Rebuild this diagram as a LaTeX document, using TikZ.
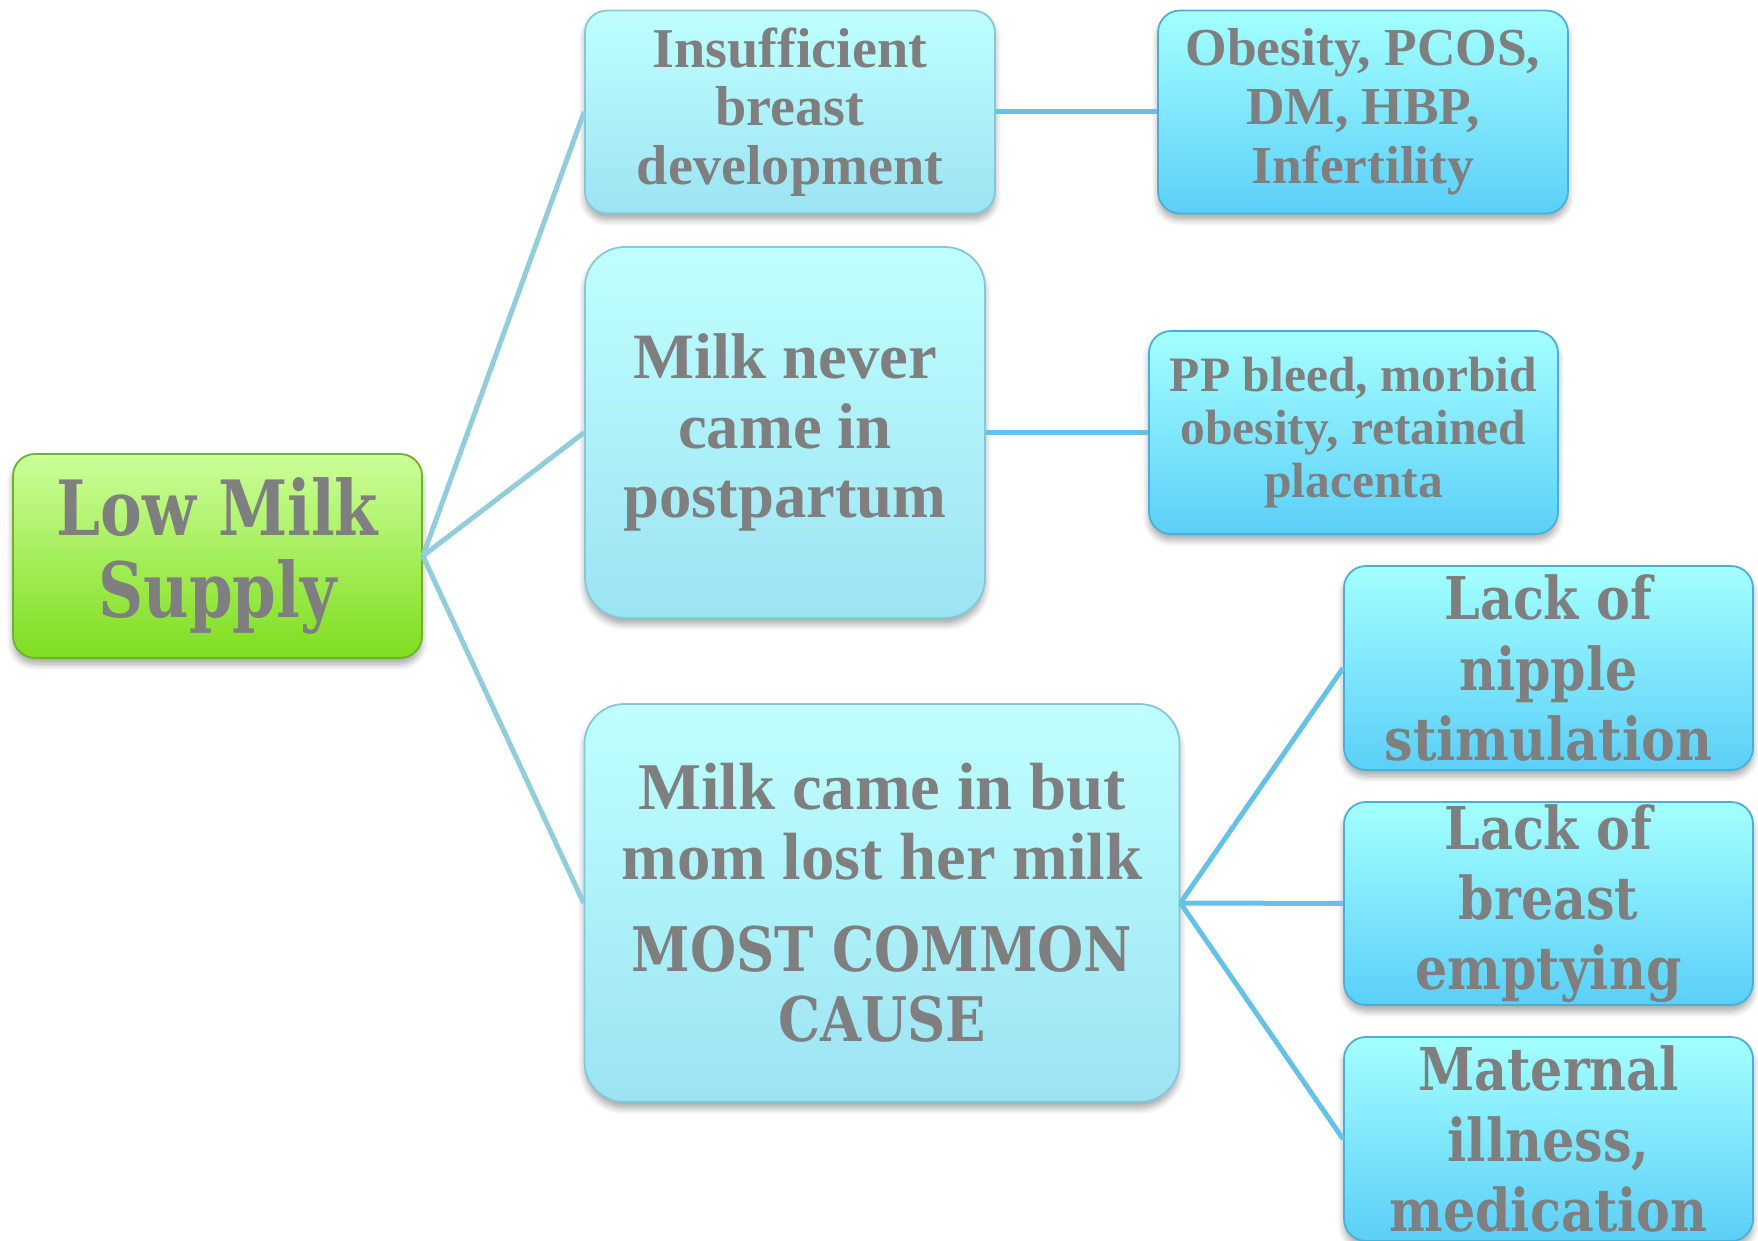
\documentclass[tikz,border=0pt]{standalone}
\usepackage{fontspec}
\setmainfont{Liberation Serif}
\newfontfamily\schoolfont{DejaVu Serif}[FakeStretch=0.86]
\newfontfamily\rootfont{DejaVu Serif}[FakeStretch=0.82]
\usetikzlibrary{shadows.blur}

\definecolor{txtgrey}{HTML}{7F7F7F}
\definecolor{greentop}{HTML}{CCFF99}
\definecolor{greenbot}{HTML}{7FDD1F}
\definecolor{greenedge}{HTML}{6DB22A}
\definecolor{paletop}{HTML}{BFFFFF}
\definecolor{palebot}{HTML}{9CE3F2}
\definecolor{paleedge}{HTML}{86C6D6}
\definecolor{brighttop}{HTML}{A4FFFF}
\definecolor{brightbot}{HTML}{5BCFF8}
\definecolor{brightedge}{HTML}{4BAED6}
\definecolor{linkpale}{HTML}{92CDDC}
\definecolor{linkbright}{HTML}{66C1E6}

\newcommand{\mostfont}{\schoolfont\bfseries\fontsize{17.5}{19.4}\selectfont}

\tikzset{
  box/.style={rounded corners=2.2mm, align=center, text=txtgrey,
    inner sep=0pt, line width=0.5pt,
    blur shadow={shadow xshift=0pt, shadow yshift=-0.6mm, shadow blur steps=6, shadow opacity=35}},
  rootbox/.style={box, top color=greentop, bottom color=greenbot, draw=greenedge},
  palebox/.style={box, top color=paletop, bottom color=palebot, draw=paleedge},
  brightbox/.style={box, top color=brighttop, bottom color=brightbot, draw=brightedge},
  link/.style={draw=linkpale, line width=0.5mm},
  sublink/.style={draw=linkbright, line width=0.5mm}
}

\begin{document}
\begin{tikzpicture}[x=0.1mm,y=-0.1mm]
  \useasboundingbox (0,0) rectangle (1758,1241);

  \node[rootbox, minimum width=40.9mm, minimum height=20.4mm,
    font=\rootfont\bfseries\fontsize{21.7}{23.3}\selectfont]
    (root) at (217.5,556) {Low Milk\\Supply};

  \node[palebox, minimum width=41mm, minimum height=20.3mm,
    font=\bfseries\fontsize{16}{16.6}\selectfont]
    (insuf) at (790,112) {Insufficient\\breast\\development};
  \node[palebox, rounded corners=4mm, minimum width=40mm, minimum height=37.1mm,
    font=\bfseries\fontsize{18.4}{19.9}\selectfont]
    (never) at (785,432.5) {Milk never\\came in\\postpartum};
  \node[palebox, rounded corners=4mm, minimum width=59.5mm, minimum height=39.8mm,
    font=\bfseries\fontsize{19}{19.9}\selectfont]
    (lost) at (882,903) {Milk came in but\\mom lost her milk\\[2.2mm]
      \mostfont MOST COMMON\\\mostfont CAUSE};

  \node[brightbox, minimum width=41mm, minimum height=20.3mm,
    font=\bfseries\fontsize{15.2}{16.8}\selectfont]
    (obes) at (1363,112) {Obesity, PCOS,\\DM, HBP,\\Infertility};
  \node[brightbox, minimum width=40.9mm, minimum height=20.3mm,
    font=\bfseries\fontsize{14.1}{15.1}\selectfont]
    (pp) at (1353.5,432.5) {PP bleed, morbid\\obesity, retained\\placenta};

  \node[brightbox, minimum width=40.9mm, minimum height=20.4mm,
    font=\schoolfont\bfseries\fontsize{16.8}{20}\selectfont]
    (nipple) at (1548.5,668) {Lack of\\nipple\\stimulation};
  \node[brightbox, minimum width=40.9mm, minimum height=20.3mm,
    font=\schoolfont\bfseries\fontsize{16.8}{20}\selectfont]
    (empty) at (1548.5,903.5) {Lack of\\breast\\emptying};
  \node[brightbox, minimum width=40.9mm, minimum height=20.4mm,
    font=\schoolfont\bfseries\fontsize{16.8}{20}\selectfont]
    (illness) at (1548.5,1139) {Maternal\\illness,\\medication};

  \draw[link] (root.east) -- (insuf.west);
  \draw[link] (root.east) -- (never.west);
  \draw[link] (root.east) -- (lost.west);

  \draw[sublink] (insuf.east) -- (obes.west);
  \draw[sublink] (never.east) -- (pp.west);
  \foreach \leaf in {nipple,empty,illness}
    \draw[sublink] (lost.east) -- (\leaf.west);
\end{tikzpicture}
\end{document}
